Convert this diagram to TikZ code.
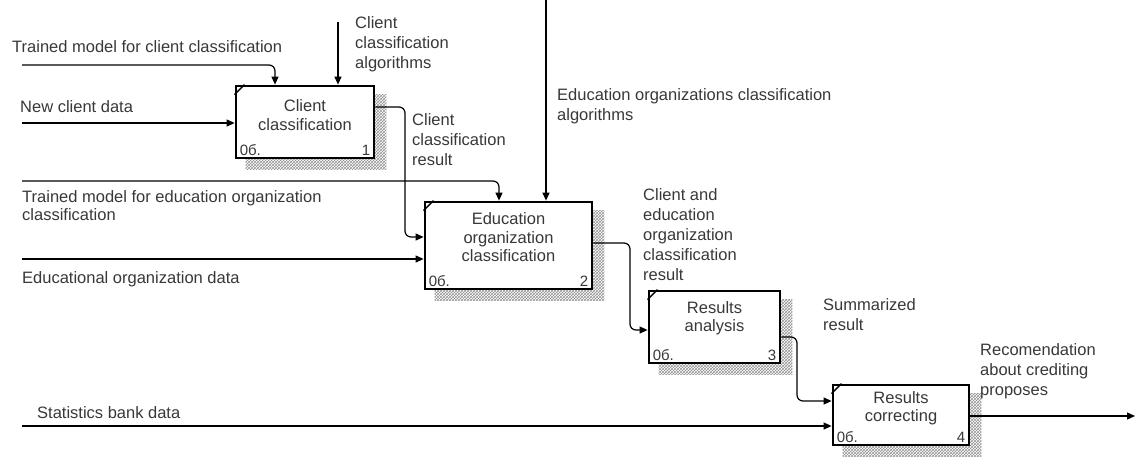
\documentclass[tikz,border=0pt]{standalone}
\usepackage{fontspec}
\setmainfont{Liberation Sans}
\usetikzlibrary{arrows.meta,patterns,calc,backgrounds}
\begin{document}
\begin{tikzpicture}[x=1pt,y=-1pt,
  lbl/.style={anchor=north west, inner sep=0pt, align=left, text=black!78, font=\fontsize{16.5}{20}\selectfont},
  boxtext/.style={inner sep=0pt, align=center, text=black!78, font=\fontsize{16.5}{18.5}\selectfont},
  smalltext/.style={inner sep=0pt, text=black!78, font=\fontsize{15}{15}\selectfont},
  box/.style={draw=black, line width=2.8pt, fill=white, inner sep=0pt},
  shadowfill/.style={pattern=crosshatch, pattern color=black!42},
  corner/.style={line width=1.4pt},
  arr/.style={line width=1.2pt, -{Triangle[length=8pt,width=7pt]}, rounded corners=6pt},
]
\useasboundingbox (0,0) rectangle (1144,459);

% boxes
\node[box, minimum width=138pt, minimum height=72pt] (b1) at (305,122) {};
\node[box, minimum width=167pt, minimum height=87pt] (b2) at (508.5,245.5) {};
\node[box, minimum width=131pt, minimum height=72pt] (b3) at (714.5,327) {};
\node[box, minimum width=136pt, minimum height=60pt] (b4) at (901,415) {};

\begin{pgfonlayer}{background}
\foreach \b in {b1,b2,b3,b4}{
  \fill[shadowfill] ($(\b.north west)+(11,10)$) rectangle ($(\b.south east)+(11,10)$);
}
\end{pgfonlayer}

\foreach \b/\n in {b1/1,b2/2,b3/3,b4/4}{
  \draw[corner] ($(\b.north west)+(0,10)$) -- ($(\b.north west)+(10,0)$);
  \node[smalltext, anchor=base west] (c\b) at ($(\b.south west)+(5,-4)$) {0б.};
  \node[smalltext, anchor=base east] (n\b) at ($(\b.south east)+(-5,-4)$) {\n};
}

\node[boxtext] (t1) at ($(b1.center)+(0,-7)$) {Client\\classification};
\node[boxtext] (t2) at ($(b2.center)+(0,-8)$) {Education\\organization\\classification};
\node[boxtext] (t3) at ($(b3.center)+(0,-9)$) {Results\\analysis};
\node[boxtext] (t4) at ($(b4.center)+(0,-7)$) {Results\\correcting};

% connectors
\coordinate (s1) at (22,65);
\draw[arr] (s1) -| ($(b1.north)+(-30,0)$);
\coordinate (s2) at (338,22);
\draw[arr] (s2) -- ($(b1.north)+(33,0)$);
\coordinate (s3) at (22,123);
\draw[arr] (s3) -- ($(b1.west)+(0,1)$);
\draw[arr] ($(b1.east)+(0,-15)$) -| (405,170) |- ($(b2.west)+(0,-8.5)$);
\coordinate (s5) at (22,181);
\draw[arr] (s5) -| ($(b2.north)+(-9.5,0)$);
\coordinate (s6) at (546,0);
\draw[arr] (s6) -- ($(b2.north)+(37.5,0)$);
\coordinate (s7) at (22,259);
\draw[arr] (s7) -- ($(b2.west)+(0,13.5)$);
\draw[arr] ($(b2.east)+(0,-2.5)$) -| (630,290) |- ($(b3.west)+(0,3)$);
\draw[arr] ($(b3.east)+(0,10)$) -| (797,370) |- ($(b4.west)+(0,-14)$);
\coordinate (s10) at (22,426);
\draw[arr] (s10) -- ($(b4.west)+(0,11)$);
\coordinate (e11) at (1135,416);
\draw[arr] ($(b4.east)+(0,1)$) -- (e11);

% labels
\node[lbl] (l1) at (12,40) {Trained model for client classification};
\node[lbl] (l2) at (355,16) {Client\\classification\\algorithms};
\node[lbl] (l3) at (20,100) {New client data};
\node[lbl] (l4) at (412,113) {Client\\classification\\result};
\node[lbl] (l5) at (557,88) {Education organizations classification\\algorithms};
\node[lbl, font=\fontsize{16.5}{18.5}\selectfont] (l6) at (22,190) {Trained model for education organization\\classification};
\node[lbl] (l7) at (22,271) {Educational organization data};
\node[lbl] (l8) at (643,188) {Client and\\education\\organization\\classification\\result};
\node[lbl] (l9) at (823,298) {Summarized\\result};
\node[lbl] (l10) at (980,343) {Recomendation\\about crediting\\proposes};
\node[lbl] (l11) at (37,406) {Statistics bank data};
\end{tikzpicture}
\end{document}
